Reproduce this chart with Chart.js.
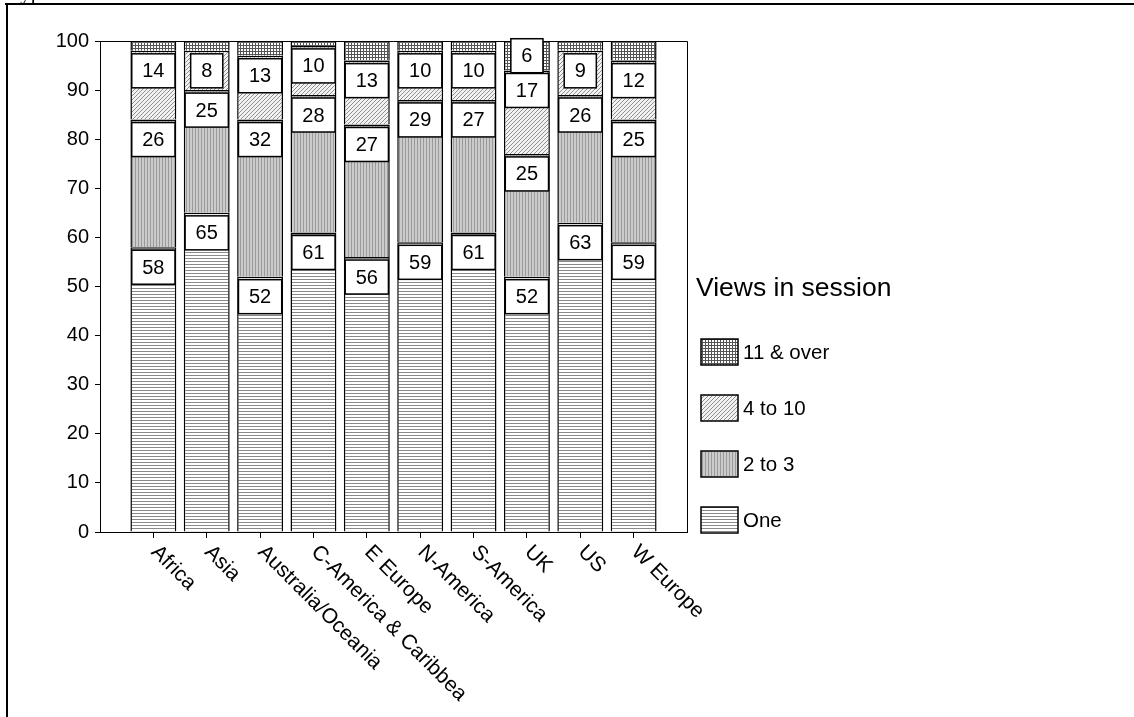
<!DOCTYPE html>
<html>
<head>
<meta charset="utf-8">
<script src="https://cdn.jsdelivr.net/npm/chart.js@4.4.1/dist/chart.umd.min.js"></script>
<style>
  body { margin: 0; background: #fff; }
  #wrap { width: 1134px; height: 717px; }
</style>
</head>
<body>
<div id="wrap"><canvas id="viewsChart" width="1134" height="717"></canvas></div>
<script>
// share of visits per region, by number of page views in the session (%)
const regions = ['Africa', 'Asia', 'Australia/Oceania', 'C-America & Caribbea', 'E Europe',
                 'N-America', 'S-America', 'UK', 'US', 'W Europe'];
const viewsOne = [58, 65, 52, 61, 56, 59, 61, 52, 63, 59];
const viewsTwoToThree = [26, 25, 32, 28, 27, 29, 27, 25, 26, 25];
const viewsFourToTen = [14, 8, 13, 10, 13, 10, 10, 17, 9, 12];
const viewsElevenPlus = [2, 2, 3, 1, 4, 2, 2, 6, 2, 4];
const seriesNames = ['One', '2 to 3', '4 to 10', '11 & over'];
const yTickStep = 10;

const FONT = 'Arial, "Liberation Sans", sans-serif';

// small tiles used as fill patterns for the stacked segments
function makePattern(size, draw) {
    const c = document.createElement('canvas');
    c.width = size; c.height = size;
    const g = c.getContext('2d');
    draw(g, size);
    return document.getElementById('viewsChart').getContext('2d').createPattern(c, 'repeat');
}

const patHorizontal = makePattern(3, (g) => {
    g.fillStyle = '#ffffff'; g.fillRect(0, 0, 3, 3);
    g.fillStyle = '#8a8a8a'; g.fillRect(0, 0, 3, 1);
});
const patVertical = makePattern(3, (g) => {
    g.fillStyle = '#cbcbcb'; g.fillRect(0, 0, 3, 3);
    g.fillStyle = '#9a9a9a'; g.fillRect(0, 0, 1, 3);
});
const patDiagonal = makePattern(4, (g) => {
    g.fillStyle = '#f2f2f2'; g.fillRect(0, 0, 4, 4);
    g.fillStyle = '#8f8f8f';
    for (let i = 0; i < 4; i++) g.fillRect(i, 3 - i, 1, 1);
});
const patGrid = makePattern(3, (g) => {
    g.fillStyle = '#ffffff'; g.fillRect(0, 0, 3, 3);
    g.fillStyle = '#555555';
    g.fillRect(0, 0, 3, 1);
    g.fillRect(0, 0, 1, 3);
});

// one empty slot at each end so the category ticks sit where they should
const pad = (arr) => [null].concat(arr, [null]);

const seriesData = [viewsOne, viewsTwoToThree, viewsFourToTen, viewsElevenPlus];
const seriesFills = [patHorizontal, patVertical, patDiagonal, patGrid];

const datasets = seriesData.map((d, i) => ({
    label: seriesNames[i],
    data: pad(d),
    backgroundColor: seriesFills[i],
    borderColor: '#000',
    borderWidth: 1.5,
    categoryPercentage: 1,
    barPercentage: 0.86
}));

// page frame and the clipped heading line above it
const pageFrame = {
    id: 'pageFrame',
    beforeDraw(chart) {
        const ctx = chart.ctx;
        ctx.save();
        ctx.fillStyle = '#fff';
        ctx.fillRect(0, 0, chart.width, chart.height);
        ctx.fillStyle = '#000';
        ctx.font = '21px "Liberation Serif", "Times New Roman", serif';
        ctx.textBaseline = 'alphabetic';
        ctx.fillText('Type', 9, -1);
        ctx.fillRect(5, 3, chart.width - 5, 2);
        ctx.fillRect(6, 3, 2, chart.height - 3);
        ctx.restore();
    }
};

// top and right edges of the plot box
const plotBox = {
    id: 'plotBox',
    beforeDatasetsDraw(chart) {
        const a = chart.chartArea;
        const ctx = chart.ctx;
        ctx.save();
        ctx.strokeStyle = '#000';
        ctx.lineWidth = 1;
        ctx.beginPath();
        ctx.moveTo(a.left, a.top + 0.5);
        ctx.lineTo(a.right + 0.5, a.top + 0.5);
        ctx.lineTo(a.right + 0.5, a.bottom);
        ctx.stroke();
        ctx.restore();
    }
};

// boxed value labels at the top of each segment
const valueBoxes = {
    id: 'valueBoxes',
    afterDatasetsDraw(chart) {
        const ctx = chart.ctx;
        ctx.save();
        ctx.font = '20px ' + FONT;
        ctx.textAlign = 'center';
        ctx.textBaseline = 'middle';
        chart.data.datasets.forEach((ds, di) => {
            chart.getDatasetMeta(di).data.forEach((bar, i) => {
                const v = ds.data[i];
                if (v === null || v < 5) return;
                const txt = String(v);
                const w = ctx.measureText(txt).width + 21;
                const h = 34;
                const segH = bar.base - bar.y;
                let top = bar.y + 3;
                if (segH < h + 4) top = bar.y + segH / 2 - h / 2;
                const left = bar.x - w / 2;
                ctx.fillStyle = '#fff';
                ctx.fillRect(left, top, w, h);
                ctx.strokeStyle = '#000';
                ctx.lineWidth = 1.5;
                ctx.strokeRect(left, top, w, h);
                ctx.fillStyle = '#000';
                ctx.fillText(txt, bar.x, top + h / 2 + 1);
            });
        });
        ctx.restore();
    }
};

// slanted category names under the ticks
const slantLabels = {
    id: 'slantLabels',
    afterDraw(chart) {
        const xs = chart.scales.x;
        const ctx = chart.ctx;
        ctx.save();
        ctx.font = '21px ' + FONT;
        ctx.fillStyle = '#000';
        ctx.textAlign = 'left';
        ctx.textBaseline = 'middle';
        regions.forEach((name, i) => {
            const x = xs.getPixelForValue(i + 1);
            ctx.save();
            ctx.translate(x + 1, chart.chartArea.bottom + 17);
            ctx.rotate(Math.PI / 4);
            ctx.fillText(name, 0, 0);
            ctx.restore();
        });
        ctx.restore();
    }
};

// legend on the right, top series first
const sideLegend = {
    id: 'sideLegend',
    afterDraw(chart) {
        const ctx = chart.ctx;
        ctx.save();
        ctx.fillStyle = '#000';
        ctx.textBaseline = 'middle';
        ctx.textAlign = 'left';
        ctx.font = '26.5px ' + FONT;
        ctx.fillText('Views in session', 696, 289);
        ctx.font = '20.5px ' + FONT;
        const n = chart.data.datasets.length;
        for (let k = 0; k < n; k++) {
            const ds = chart.data.datasets[n - 1 - k];
            const cy = 352 + k * 56;
            ctx.fillStyle = ds.backgroundColor;
            ctx.fillRect(701, cy - 13, 37, 26);
            ctx.strokeStyle = '#000';
            ctx.lineWidth = 1.5;
            ctx.strokeRect(701, cy - 13, 37, 26);
            ctx.fillStyle = '#000';
            ctx.fillText(ds.label, 743, cy + 1);
        }
        ctx.restore();
    }
};

new Chart(document.getElementById('viewsChart'), {
    type: 'bar',
    data: {
        labels: pad(regions).map(x => x || ''),
        datasets: datasets
    },
    options: {
        responsive: false,
        animation: false,
        layout: { padding: { top: 41, right: 447, bottom: 0, left: 0 } },
        plugins: {
            legend: { display: false },
            tooltip: { enabled: false }
        },
        scales: {
            x: {
                stacked: true,
                offset: false,
                ticks: { display: false },
                grid: {
                    offset: false,
                    drawOnChartArea: false,
                    drawTicks: true,
                    tickLength: 6,
                    tickColor: (c) => (c.index === 0 || c.index === regions.length + 1) ? 'rgba(0,0,0,0)' : '#000'
                },
                border: { color: '#000', width: 1 },
                afterFit: (s) => { s.height = 185; }
            },
            y: {
                stacked: true,
                min: 0,
                max: 100,
                ticks: {
                    stepSize: yTickStep,
                    color: '#000',
                    font: { family: FONT, size: 20 },
                    padding: 6
                },
                grid: {
                    drawOnChartArea: false,
                    drawTicks: true,
                    tickLength: 5,
                    tickColor: '#000'
                },
                border: { color: '#000', width: 1 },
                afterFit: (s) => { s.width = 100; }
            }
        }
    },
    plugins: [pageFrame, plotBox, valueBoxes, slantLabels, sideLegend]
});
</script>
</body>
</html>
